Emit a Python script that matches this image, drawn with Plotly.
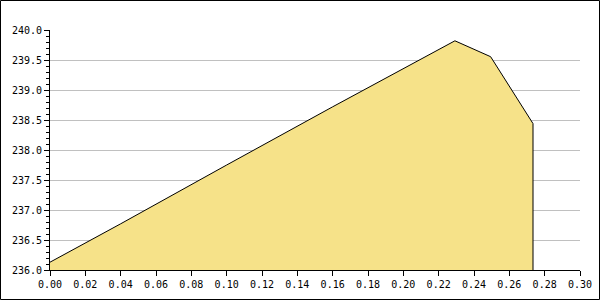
import plotly.graph_objects as go

# Data
x_vals = [0.0, 0.04, 0.10, 0.16, 0.2292, 0.2494, 0.2734]
y_vals = [236.13, 236.77, 237.75, 238.72, 239.82, 239.555, 238.44]

y_range = [236.0, 240.0]
x_range = [0.0, 0.30]

W, H = 600, 300
ML, MR, MT, MB = 50, 20, 30, 30
PW, PH = W - ML - MR, H - MT - MB

fig = go.Figure()
fig.add_trace(go.Scatter(
    x=x_vals, y=y_vals, mode="lines", fill="tozeroy",
    fillcolor="#f6e289", line=dict(color="black", width=1),
    hoverinfo="skip", showlegend=False))
# vertical edge at the end of the series down to the axis baseline
fig.add_trace(go.Scatter(
    x=[x_vals[-1], x_vals[-1]], y=[y_vals[-1], y_range[0]], mode="lines",
    line=dict(color="black", width=1), hoverinfo="skip", showlegend=False))

font = dict(family="DejaVu Sans Mono", size=10, color="black")

fig.update_layout(
    width=W, height=H,
    margin=dict(l=ML, r=MR, t=MT, b=MB, pad=0, autoexpand=False),
    paper_bgcolor="white", plot_bgcolor="white",
    font=font,
    xaxis=dict(range=x_range, dtick=0.02, tick0=0, tickformat=".2f",
               showgrid=False, zeroline=False, showline=True,
               linecolor="black", linewidth=1, ticks="outside",
               ticklen=5, tickcolor="black", tickfont=font,
               fixedrange=True, automargin=False),
    yaxis=dict(range=y_range, dtick=0.5, tick0=236, tickformat=".1f",
               showgrid=True, gridcolor="#c0c0c0", gridwidth=1,
               zeroline=False, showline=True, linecolor="black",
               linewidth=1, ticks="outside", ticklen=5, tickcolor="black",
               tickfont=font, fixedrange=True, automargin=False,
               minor=dict(dtick=0.1, ticks="outside", ticklen=3,
                          tickcolor="black", showgrid=False)),
    shapes=[dict(type="rect", xref="paper", yref="paper",
                 x0=(0.5 - ML) / PW, x1=(W - 0.5 - ML) / PW,
                 y0=(H - MB - (H - 0.5)) / PH, y1=(H - MB - 0.5) / PH,
                 line=dict(color="black", width=1), layer="above")],
)

fig.write_html("out.html", config={"displayModeBar": False})
